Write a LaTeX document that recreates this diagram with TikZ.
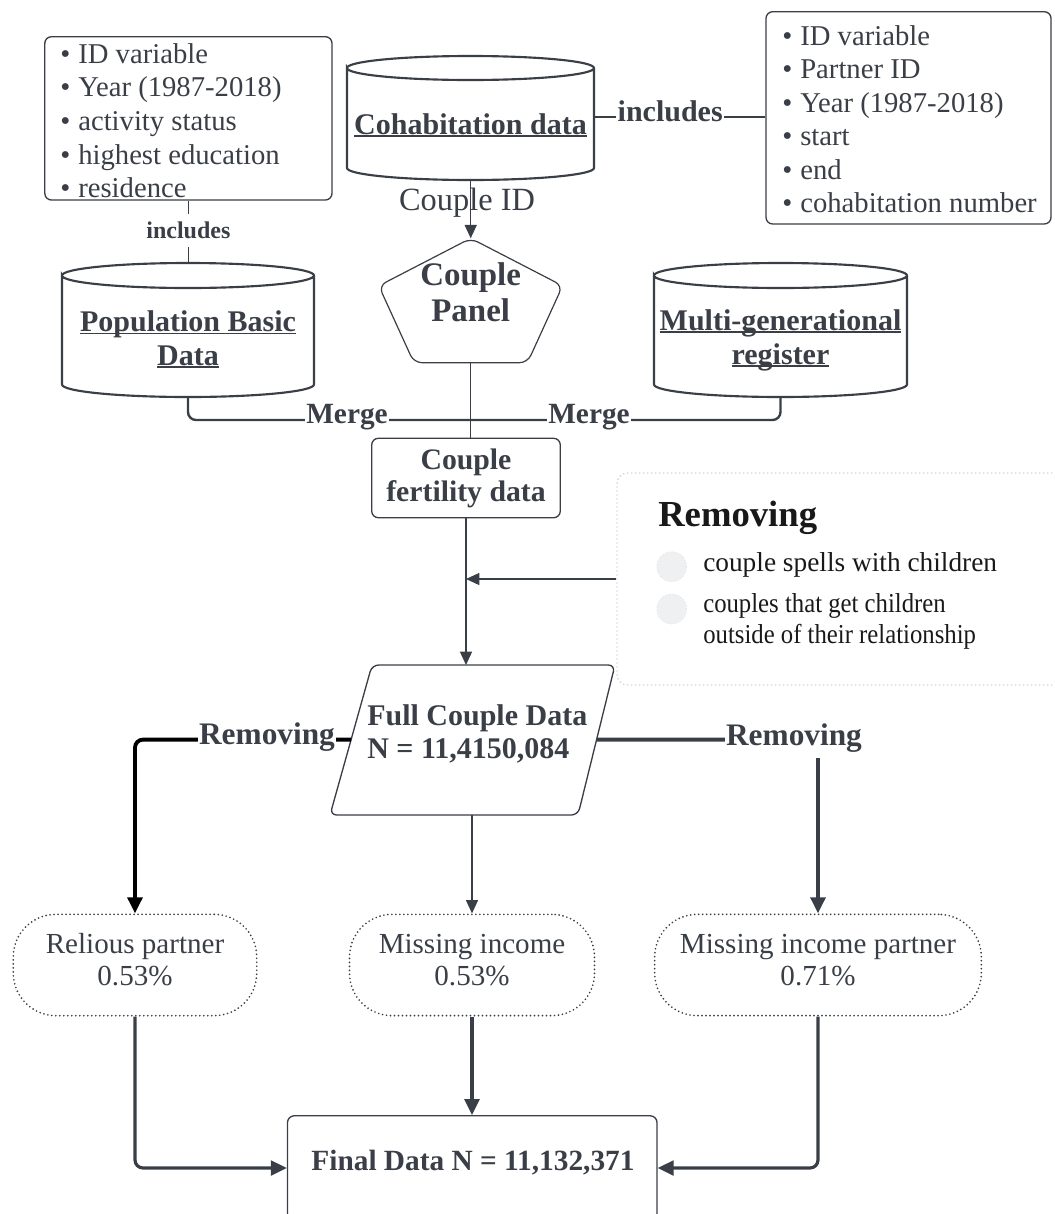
\documentclass[tikz,border=0pt]{standalone}
\usepackage{fontspec}
\usepackage{graphicx}
\setmainfont{Liberation Serif}
\usetikzlibrary{arrows.meta}
\definecolor{ink}{RGB}{58,63,71}
\definecolor{faint}{RGB}{208,211,215}
\definecolor{dotfill}{RGB}{238,240,242}
\definecolor{titlec}{RGB}{25,25,25}
\newcommand\ulx[1]{\setbox0=\hbox{#1}\rlap{\rule[-2pt]{\wd0}{1.1pt}}\box0}
\newcommand\drawcyl[5]{%
  \pgfmathsetmacro\cylrx{(#2-#1)/2*0.75}%
  \pgfmathsetmacro\cylry{#5*0.75}%
  \draw[cylline] (#1,-#3-#5) arc[start angle=180,end angle=-180,x radius=\cylrx pt,y radius=\cylry pt]
    -- (#1,-#4+#5) arc[start angle=180,end angle=360,x radius=\cylrx pt,y radius=\cylry pt] -- (#2,-#3-#5);%
}
\begin{document}
\begin{tikzpicture}[x=0.75pt,y=0.75pt,
  every node/.style={text=ink, inner sep=0pt},
  regf/.style={font=\fontsize{#1}{#1}\selectfont},
  boldf/.style={font=\fontsize{#1}{#1}\selectfont\bfseries},
  box/.style={draw=ink, line width=1pt, rounded corners=5pt, fill=white},
  cylline/.style={draw=ink, line width=1.6pt, fill=white},
  thinline/.style={draw=ink, line width=1pt},
  mergeline/.style={draw=ink, line width=1.8pt, rounded corners=6pt},
  arr/.style={-{Triangle[length=10pt,width=9pt]}},
  bigarr/.style={-{Triangle[length=12pt,width=11pt]}},
  lbl/.style={fill=white, inner xsep=1pt, inner ysep=3pt},
  stad/.style={draw=ink, line width=1.4pt, line cap=round, dash pattern=on 0pt off 3pt, rounded corners=32pt, fill=white, minimum height=76pt},
]
\useasboundingbox (0,0) rectangle (1054,-1214);
\clip (0,0) rectangle (1054,-1214);

% ---------- left list box
\node[box, minimum width=215.4pt, minimum height=122.5pt] (lbox) at (188.4,-118.35) {};
\foreach \t [count=\i from 0] in {ID variable, Year (1987-2018), activity status, highest education, residence} {
  \node[regf=21.5, anchor=base west] (lb\i) at (60,-63.3-33.6*\i) {\textbullet\hspace{6pt}\t};
}

% ---------- right list box
\node[box, minimum width=213.75pt, minimum height=159.2pt] (rbox) at (908.5,-117.85) {};
\foreach \t [count=\i from 0] in {ID variable, Partner ID, Year (1987-2018), start, end, cohabitation number} {
  \node[regf=21.5, anchor=base west] (rb\i) at (782,-45-33.5*\i) {\textbullet\hspace{6pt}\t};
}

% ---------- cylinders
\drawcyl{347}{594}{56}{180}{12}
\node[boldf=22.5, anchor=base] (cohab) at (470.5,-134) {\ulx{Cohabitation data}};
\coordinate (cohabS) at (470.7,-180);
\coordinate (cohabE) at (594,-117);

\drawcyl{62}{314}{263}{397}{12.5}
\node[boldf=22.5, anchor=base] (pop) at (188,-331.5) {\ulx{Population Basic}};
\node[boldf=22.5, anchor=base] (popb) at (188,-365) {\ulx{Data}};
\coordinate (popN) at (188.4,-263);
\coordinate (popS) at (188,-397);

\drawcyl{654}{907}{263}{397}{12.5}
\node[boldf=22.5, anchor=base] (multi) at (780.5,-330) {\ulx{Multi-generational}};
\node[boldf=22.5, anchor=base] (multib) at (780.5,-364) {\ulx{register}};
\coordinate (multiS) at (780.5,-397);

% ---------- pentagon
\draw[draw=ink, line width=0.9pt, fill=white, rounded corners=6pt]
  (470.7,-238.3) -- (562.6,-285.8) -- (527.5,-362.7) -- (413.9,-362.7) -- (378.8,-285.8) -- cycle;
\coordinate (panN) at (470.7,-238.3);
\coordinate (panS) at (470.7,-362.7);
\node[boldf=24.7, anchor=base] (panel) at (470.7,-285) {Couple};
\node[boldf=24.7, anchor=base] (panelb) at (470.7,-321.7) {Panel};

% ---------- includes connectors
\draw[thinline] (lbox.south) -- (popN);
\node[boldf=18, anchor=base, fill=white, inner xsep=1pt, inner ysep=6pt] (inc1) at (188.4,-238.3) {includes};
\draw[thinline] (cohabE) -- (cohabE -| rbox.west);
\node[boldf=22.5, anchor=base, lbl] (inc2) at (670.2,-121.7) {includes};

% ---------- couple ID arrow
\node[regf=24.3, anchor=base] (cid) at (467,-210) {Couple ID};
\draw[thinline, arr] (cohabS) -- (panN);

% ---------- fertility box
\node[box, minimum width=141.45pt, minimum height=59.55pt] (fert) at (466,-478) {};
\node[boldf=22.3, anchor=base] (fert1) at (466,-469.3) {Couple};
\node[boldf=22.3, anchor=base] (fert2) at (466,-501.7) {fertility data};

% ---------- merge lines
\draw[thinline] (panS) -- (panS |- fert.north);
\draw[mergeline] (popS) |- (470.7,-420);
\draw[mergeline] (multiS) |- (470.7,-420);
\node[boldf=22, anchor=base, lbl] (m1) at (347,-423.3) {Merge};
\node[boldf=22, anchor=base, lbl] (m2) at (589,-423.3) {Merge};

% ---------- removing info box
\node[draw=faint, line width=1pt, dotted, rounded corners=8pt, fill=white, minimum width=343.5pt, minimum height=159pt] (rem) at (846,-579) {};
\node[boldf=27.5, anchor=base west, text=titlec] (remt) at (658,-526.7) {Removing};
\node[circle, draw=faint, dotted, fill=dotfill, minimum size=22.5pt] (c1) at (671.7,-566.7) {};
\node[circle, draw=faint, dotted, fill=dotfill, minimum size=22.5pt] (c2) at (671.7,-609) {};
\node[regf=20.5, anchor=base west, text=titlec] (r1) at (703,-571.7) {couple spells with children};
\node[regf=20.5, anchor=base west, text=titlec] (r2) at (703,-612.7) {\scalebox{0.905}[1]{couples that get children}};
\node[regf=20.5, anchor=base west, text=titlec] (r3) at (703,-643.3) {\scalebox{0.905}[1]{outside of their relationship}};

% ---------- full couple data parallelogram
\draw[draw=ink, line width=1pt, fill=white, rounded corners=5pt]
  (372,-665) -- (615,-665) -- (578,-815) -- (330,-815) -- cycle;
\coordinate (fullN) at (466,-665);
\coordinate (fullS) at (472,-815);
\coordinate (fullW) at (351,-739.6);
\coordinate (fullE) at (596.6,-739.6);
\node[boldf=22.5, anchor=base west] (full1) at (367,-725) {Full Couple Data};
\node[boldf=22.5, anchor=base west] (full2) at (367,-758.3) {N = 11,4150,084};

\draw[thinline, arr] (fert.south) -- (fert.south |- fullN);
\draw[thinline, arr] (rem.west) -- (rem.west -| fert.south);

% ---------- stadiums
\node[stad, minimum width=182.6pt] (relious) at (135,-965) {};
\node[regf=21.8, anchor=base] (rel1) at (135,-953.7) {Relious partner};
\node[regf=21.8, anchor=base] (rel2) at (135,-985.9) {0.53\%};
\node[stad, minimum width=183.75pt] (missing) at (472,-965) {};
\node[regf=21.8, anchor=base] (mis1) at (472,-953.7) {Missing income};
\node[regf=21.8, anchor=base] (mis2) at (472,-985.9) {0.53\%};
\node[stad, minimum width=245pt] (partner) at (818,-965) {};
\node[regf=21.8, anchor=base] (par1) at (818,-953.7) {Missing income partner};
\node[regf=21.8, anchor=base] (par2) at (818,-985.9) {0.71\%};

% ---------- final box
\node[box, minimum width=277.1pt, minimum height=78.3pt] (final) at (472.25,-1168) {};
\node[boldf=22, anchor=base] (finaltxt) at (473,-1170.7) {Final Data N = 11,132,371};

% ---------- removing connectors
\draw[line width=2.9pt, black, bigarr, rounded corners=6pt] (fullW) -| (relious.north);
\node[boldf=23.5, anchor=base, lbl] (rmL) at (267,-744.3) {Removing};
\draw[line width=2.9pt, ink, bigarr, rounded corners=6pt] (fullE) -| (partner.north);
\node[boldf=23.5, anchor=base, fill=white, inner xsep=1pt, inner ysep=4.5pt] (rmR) at (794,-745) {Removing};
\draw[thinline, arr] (fullS) -- (missing.north);

% ---------- to final
\draw[line width=2.4pt, ink, bigarr] (missing.south) -- (missing.south |- final.north);
\draw[line width=2.4pt, ink, bigarr, rounded corners=6pt] (relious.south) |- (final.west);
\draw[line width=2.4pt, ink, bigarr, rounded corners=6pt] (partner.south) |- (final.east);
\end{tikzpicture}
\end{document}
